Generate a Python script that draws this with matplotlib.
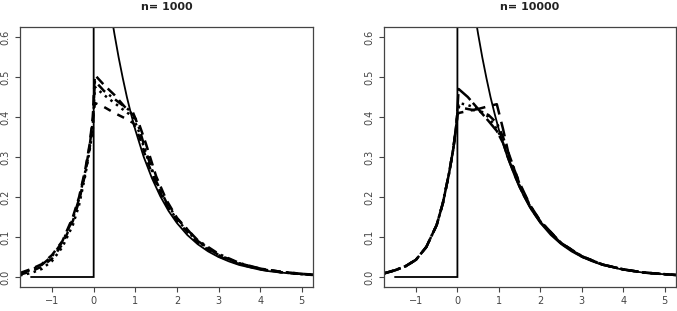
import matplotlib
matplotlib.use("Agg")
import matplotlib.pyplot as plt

# ---- true density (solid) ----
true_x = [-1.5, 0.0, 0.0, 0.1, 0.2, 0.3, 0.4, 0.5, 0.6, 0.7, 0.8, 0.9, 1.0, 1.2, 1.4, 1.6,
          1.8, 2.0, 2.25, 2.5, 2.75, 3.0, 3.25, 3.5, 3.75, 4.0, 4.25, 4.5, 4.75, 5.0, 5.25]
true_y = [0.0, 0.0, 1.0, 0.905, 0.819, 0.741, 0.670, 0.607, 0.549, 0.497, 0.449, 0.407, 0.368,
          0.301, 0.247, 0.202, 0.165, 0.135, 0.105, 0.082, 0.064, 0.050, 0.039, 0.030, 0.024,
          0.018, 0.014, 0.011, 0.0087, 0.0067, 0.0052]

# ---- estimates, common grid ----
est_x = [-1.77, -1.5, -1.25, -1.0, -0.75, -0.5, -0.35, -0.2, -0.1, -0.02, 0.0, 0.03,
         0.25, 0.5, 0.75, 0.95, 1.1, 1.25, 1.5, 1.75, 2.0, 2.5, 3.0, 3.5, 4.0, 4.5, 5.0, 5.27]

n1000_a = [0.010, 0.020, 0.032, 0.055, 0.090, 0.150, 0.200, 0.270, 0.330, 0.400, 0.450, 0.505,
           0.480, 0.455, 0.425, 0.405, 0.380, 0.335, 0.252, 0.192, 0.148, 0.090, 0.055, 0.034,
           0.021, 0.013, 0.008, 0.006]
n1000_b = [0.006, 0.014, 0.026, 0.046, 0.082, 0.140, 0.190, 0.260, 0.320, 0.380, 0.410, 0.435,
           0.425, 0.410, 0.397, 0.385, 0.350, 0.300, 0.232, 0.180, 0.140, 0.085, 0.052, 0.032,
           0.019, 0.012, 0.007, 0.005]
n1000_c = [0.008, 0.018, 0.030, 0.052, 0.088, 0.145, 0.195, 0.265, 0.325, 0.390, 0.430, 0.490,
           0.465, 0.445, 0.425, 0.410, 0.370, 0.315, 0.240, 0.186, 0.146, 0.092, 0.058, 0.035,
           0.021, 0.013, 0.008, 0.006]
n1000_d = [0.004, 0.010, 0.020, 0.040, 0.075, 0.130, 0.180, 0.255, 0.315, 0.370, 0.420, 0.475,
           0.455, 0.435, 0.415, 0.400, 0.360, 0.310, 0.236, 0.183, 0.143, 0.088, 0.055, 0.034,
           0.020, 0.012, 0.007, 0.005]

n10000_a = [0.009, 0.017, 0.027, 0.043, 0.075, 0.130, 0.185, 0.260, 0.320, 0.385, 0.420, 0.470,
            0.450, 0.420, 0.390, 0.365, 0.335, 0.290, 0.225, 0.175, 0.137, 0.084, 0.051, 0.031,
            0.019, 0.011, 0.007, 0.005]
n10000_b = [0.009, 0.017, 0.027, 0.043, 0.075, 0.130, 0.185, 0.260, 0.320, 0.385, 0.405, 0.410,
            0.415, 0.420, 0.427, 0.432, 0.370, 0.300, 0.235, 0.180, 0.140, 0.085, 0.052, 0.031,
            0.019, 0.011, 0.007, 0.005]
n10000_c = [0.009, 0.017, 0.027, 0.043, 0.075, 0.130, 0.185, 0.260, 0.320, 0.385, 0.410, 0.435,
            0.430, 0.420, 0.400, 0.370, 0.340, 0.295, 0.228, 0.177, 0.138, 0.084, 0.051, 0.031,
            0.019, 0.011, 0.007, 0.005]
n10000_d = [0.009, 0.017, 0.027, 0.043, 0.075, 0.130, 0.185, 0.260, 0.320, 0.385, 0.410, 0.425,
            0.420, 0.415, 0.405, 0.385, 0.350, 0.305, 0.232, 0.179, 0.139, 0.085, 0.052, 0.031,
            0.019, 0.011, 0.007, 0.005]

titles = ["n= 1000", "n= 10000"]
x_ticks = [-1, 0, 1, 2, 3, 4, 5]
y_ticks = [0.0, 0.1, 0.2, 0.3, 0.4, 0.5, 0.6]
y_tick_labels = ["0.0", "0.1", "0.2", "0.3", "0.4", "0.5", "0.6"]

styles = [(0, (4, 2.5)), (0, (3, 3)), (0, (4, 2, 1, 2)), (0, (1, 1.8))]
styles_10k = [(0, (7, 1.5)), (0, (6, 3)), (0, (1, 1.8)), (0, (4, 2, 1, 2))]

fig = plt.figure(figsize=(6.77, 3.11), dpi=100)
W, H = 677, 311
axes_px = [(20, 313), (384, 676)]
top_px, bot_px = 27, 287

series_sets = [
    [n1000_a, n1000_b, n1000_c, n1000_d],
    [n10000_a, n10000_b, n10000_c, n10000_d],
]
style_sets = [styles, styles_10k]

grey = "#444444"
for i, (l, r) in enumerate(axes_px):
    ax = fig.add_axes([l / W, (H - bot_px) / H, (r - l) / W, (bot_px - top_px) / H])
    ax.plot(true_x, true_y, color="black", lw=1.3, solid_joinstyle="miter")
    for ys, ls in zip(series_sets[i], style_sets[i]):
        ax.plot(est_x, ys, color="black", lw=1.8, linestyle=ls)
    ax.set_xlim(-1.77, 5.27)
    ax.set_ylim(-0.025, 0.625)
    ax.set_xticks(x_ticks)
    ax.set_xticklabels(["\u22121", "0", "1", "2", "3", "4", "5"])
    ax.set_yticks(y_ticks)
    ax.set_yticklabels(y_tick_labels, rotation=90, va="center")
    ax.tick_params(direction="out", length=3.6, width=0.8, colors=grey,
                   labelsize=7, pad=3, labelcolor=grey)
    for s in ax.spines.values():
        s.set_color(grey)
        s.set_linewidth(0.9)
    ax.set_title(titles[i], fontsize=8, fontweight="bold", pad=12, color="#222222")

fig.savefig("out.png", dpi=100)
